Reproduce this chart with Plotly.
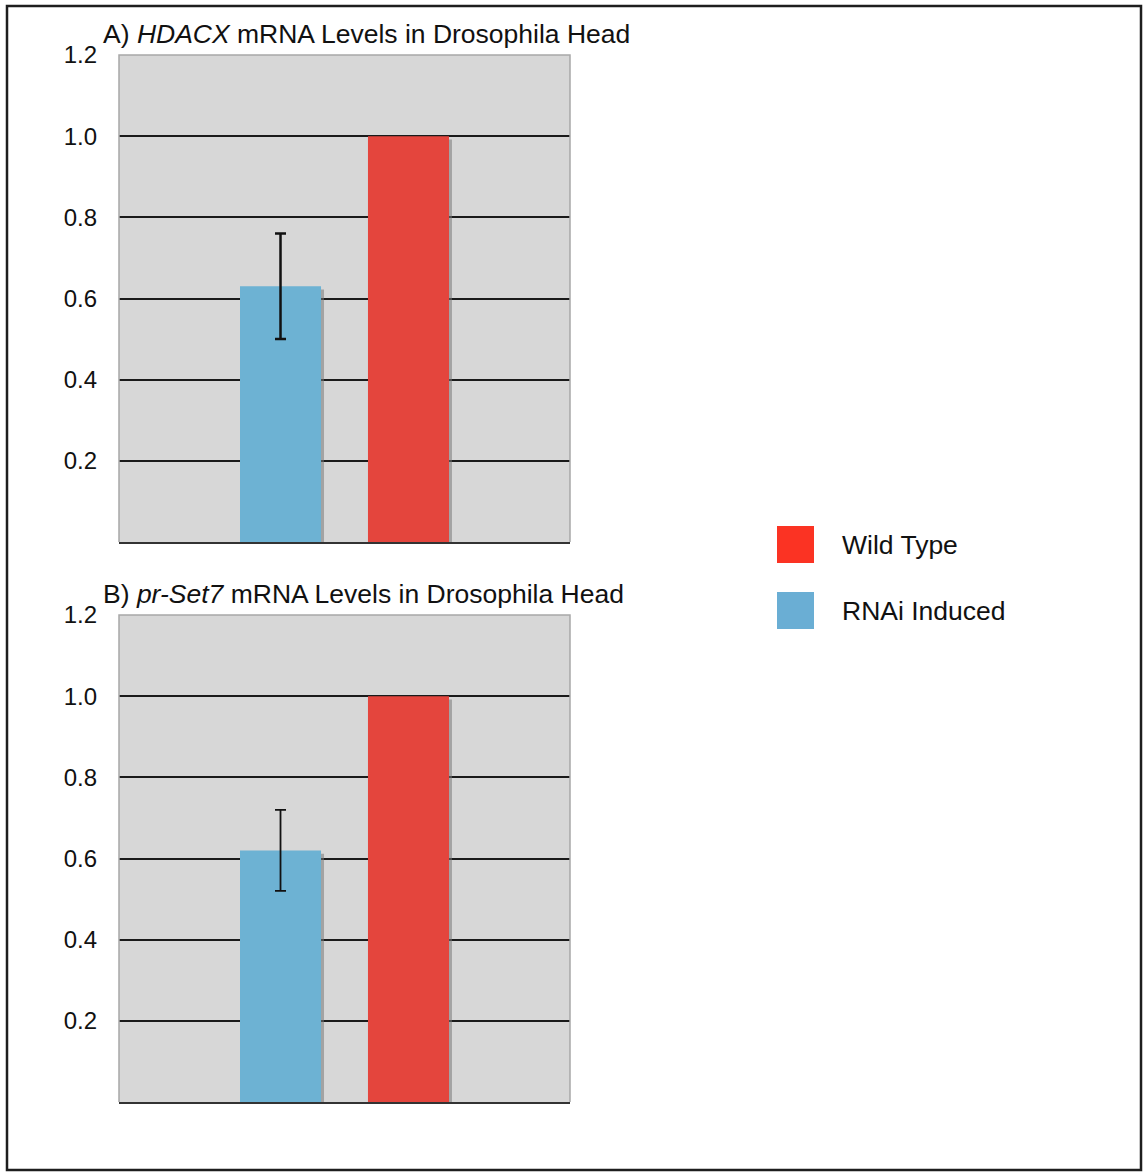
import plotly.graph_objects as go

W, H = 1143, 1173

categories = ["RNAi Induced", "Wild Type"]
legend_names = ["Wild Type", "RNAi Induced"]

hdacx_values = [0.63, 1.00]
hdacx_err = [0.13]
set7_values = [0.62, 1.00]
set7_err = [0.10]

tick_vals = [0.2, 0.4, 0.6, 0.8, 1.0, 1.2]
tick_text = ["0.2", "0.4", "0.6", "0.8", "1.0", "1.2"]

titles = ["A) <i>HDACX</i> mRNA Levels in Drosophila Head",
          "B) <i>pr-Set7</i> mRNA Levels in Drosophila Head"]

BLUE = "#6db2d3"
RED = "#e4453d"
LEG_RED = "#fb3323"
LEG_BLUE = "#6aaed4"
BG = "#d7d7d7"
FONT = "Liberation Sans, Arial, Helvetica, sans-serif"

def px_x(x):
    return x / W

def px_y(y):
    return 1 - y / H

# plot areas in pixels (left, right, top, bottom)
panels = [(119, 570, 55, 542), (119, 570, 615, 1102)]
bar_w = 0.633
shadow_dx = 0.0234

fig = go.Figure()

datasets = [(hdacx_values, hdacx_err, 2.5), (set7_values, set7_err, 1.8)]
for i, (vals, err, thick) in enumerate(datasets):
    xa = "x" if i == 0 else "x2"
    ya = "y" if i == 0 else "y2"
    # shadows
    fig.add_trace(go.Bar(
        x=categories, y=[v - 0.008 for v in vals], width=bar_w,
        offset=-bar_w / 2 + shadow_dx,
        marker=dict(color="rgba(120,120,120,0.55)", line=dict(width=0)),
        xaxis=xa, yaxis=ya, showlegend=False, hoverinfo="skip"))
    fig.add_trace(go.Bar(
        x=[categories[0]], y=[vals[0]], width=bar_w, offset=-bar_w / 2,
        marker=dict(color=BLUE, line=dict(width=0)),
        error_y=dict(type="data", array=err, color="#111", thickness=thick, width=5.5),
        xaxis=xa, yaxis=ya, showlegend=False, name=categories[0]))
    fig.add_trace(go.Bar(
        x=[categories[1]], y=[vals[1]], width=bar_w, offset=-bar_w / 2,
        marker=dict(color=RED, line=dict(width=0)),
        xaxis=xa, yaxis=ya, showlegend=False, name=categories[1]))

layout = dict(
    width=W, height=H, margin=dict(l=0, r=0, t=0, b=0, pad=0, autoexpand=False),
    paper_bgcolor="white", plot_bgcolor=BG, barmode="overlay",
    showlegend=False,
    font=dict(family=FONT, color="#111"),
)
for i, (l, r, t, b) in enumerate(panels):
    sfx = "" if i == 0 else "2"
    layout["xaxis" + sfx] = dict(
        domain=[px_x(l), px_x(r)], range=[-1.262, 2.262], type="category",
        showticklabels=False, showgrid=False, zeroline=False, ticks="",
        showline=True, linecolor="#333", linewidth=2, automargin=False,
        anchor="y" + sfx, fixedrange=True)
    layout["yaxis" + sfx] = dict(
        domain=[px_y(b), px_y(t)], range=[0, 1.2],
        tickvals=tick_vals, ticktext=tick_text,
        tickfont=dict(size=24, family=FONT, color="#111"),
        showgrid=True, gridcolor="#1a1a1a", gridwidth=1.5,
        zeroline=False, showline=False, ticks="", automargin=False,
        ticklabelstandoff=21, anchor="x" + sfx, fixedrange=True)
fig.update_layout(**layout)

shapes = []
annotations = []
for i, (l, r, t, b) in enumerate(panels):
    sfx = "" if i == 0 else "2"
    # grey frame on top, left, right
    shapes.append(dict(
        type="path", xref=f"x{sfx} domain", yref=f"y{sfx} domain",
        path="M 0,0 L 0,1 L 1,1 L 1,0",
        line=dict(color="#a8a8a8", width=1.5), layer="above"))
    annotations.append(dict(
        text=titles[i], xref="paper", yref="paper",
        x=px_x(101), y=px_y(t - 21), xanchor="left", yanchor="middle",
        showarrow=False, font=dict(size=26.5, family=FONT, color="#111")))

# legend
leg_colors = [LEG_RED, LEG_BLUE]
leg_centers = [544.5, 610.5]
for name, col, cy in zip(legend_names, leg_colors, leg_centers):
    shapes.append(dict(
        type="rect", xref="paper", yref="paper",
        x0=px_x(777), x1=px_x(814), y0=px_y(cy + 18.5), y1=px_y(cy - 18.5),
        fillcolor=col, line=dict(width=0)))
    annotations.append(dict(
        text=name, xref="paper", yref="paper",
        x=px_x(840), y=px_y(cy), xanchor="left", yanchor="middle",
        showarrow=False, font=dict(size=26.5, family=FONT, color="#111")))

# outer frame
shapes.append(dict(
    type="rect", xref="paper", yref="paper",
    x0=px_x(7), x1=px_x(1141), y0=px_y(1170), y1=px_y(6),
    line=dict(color="#1e1e1e", width=2.5), fillcolor="rgba(0,0,0,0)"))

fig.update_layout(shapes=shapes, annotations=annotations)

fig.write_html(
    "out.html",
    config={"displayModeBar": False, "responsive": False},
    post_script="document.body.style.margin='0';"
                "document.documentElement.style.overflow='hidden';"
                "document.body.style.overflow='hidden';")
